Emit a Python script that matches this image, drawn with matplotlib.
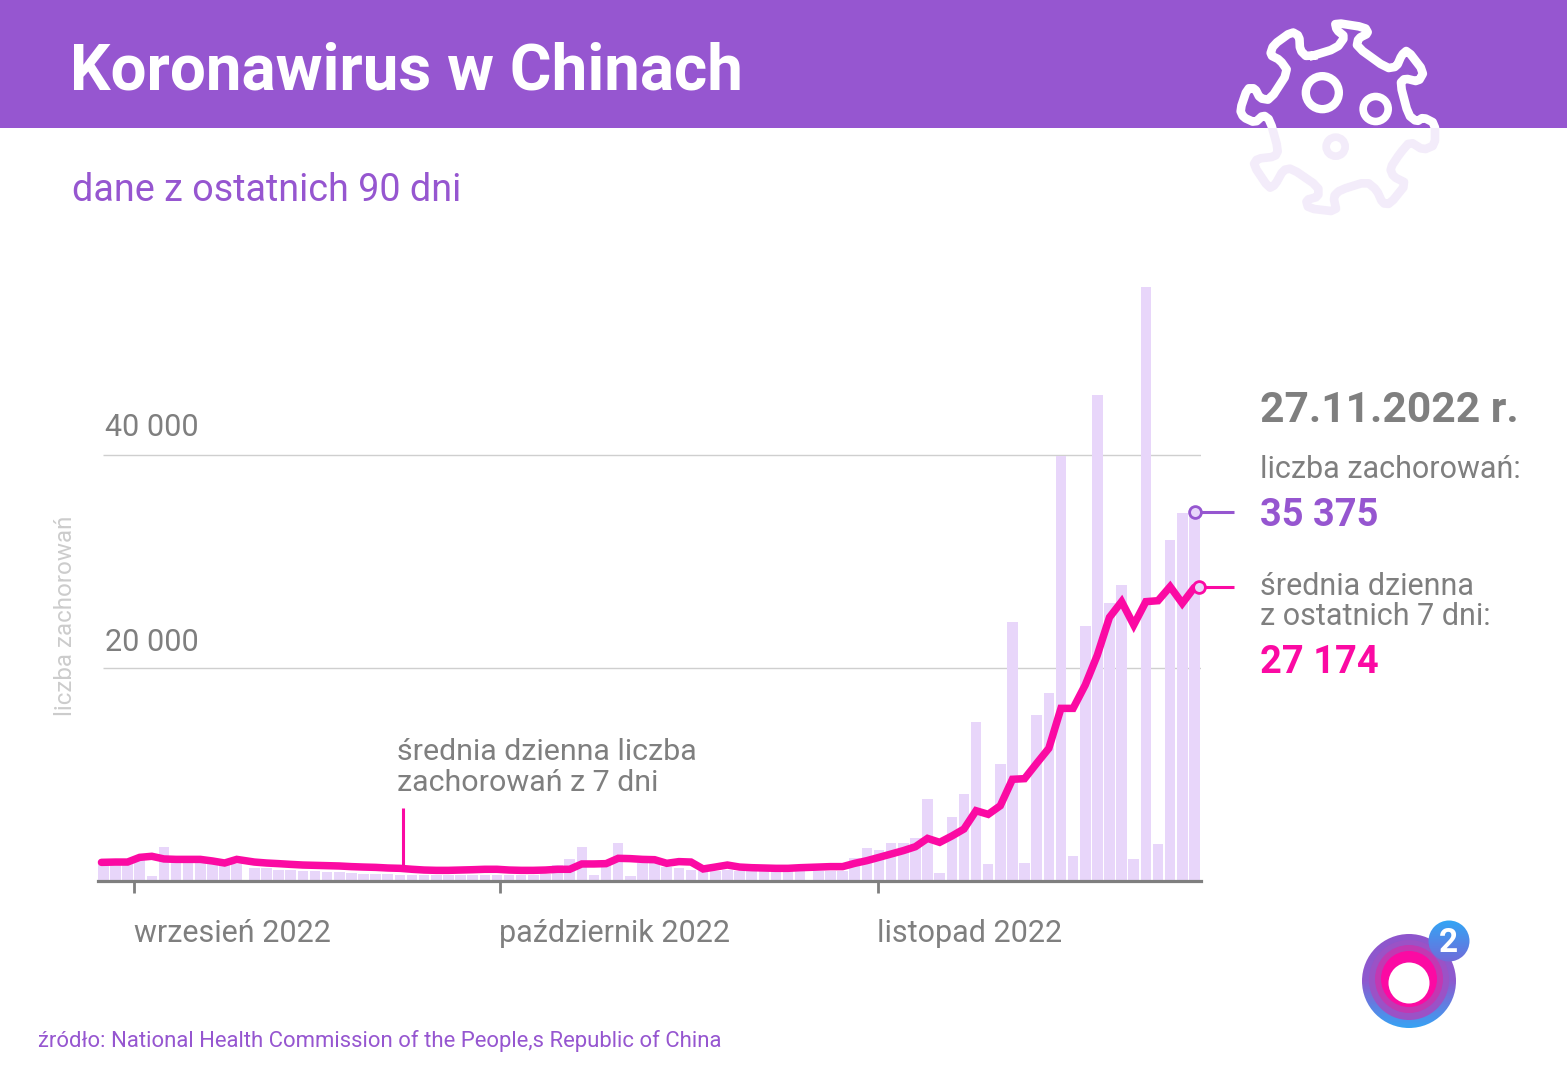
import numpy as np
import matplotlib
matplotlib.use("Agg")
import matplotlib.pyplot as plt
from matplotlib.patches import Rectangle, Circle
from matplotlib.colors import LinearSegmentedColormap

plt.rcParams['font.family'] = ['Roboto', 'DejaVu Sans']

# ---- data ----
daily_cases = [1600, 1650, 1700, 2100, 500, 3220, 1900, 1850, 1850, 1750, 1700, 1600,
               1200, 1200, 1050, 1000, 950, 900, 850, 800, 750, 700, 650, 620,
               600, 580, 560, 550, 540, 530, 520, 520, 560, 560, 560, 600,
               700, 1500, 2030, 3220, 600, 1600, 3600, 470, 1650, 1700, 1280, 1250,
               1030, 900, 900, 1030, 900, 900, 900, 900, 900, 900, 900, 900,
               900, 2200, 3060, 2910, 3530, 3530, 4000, 7690, 720, 6040, 8140, 14960,
               1560, 10950, 24350, 1720, 15580, 17620, 39890, 2380, 23940, 45630, 26070, 27790,
               2060, 55790, 3470, 32020, 34550, 34450]
avg_7d = [1750, 1780, 1780, 2220, 2320, 2070, 2030, 2030, 2030, 1880, 1690, 2030,
          1780, 1690, 1630, 1560, 1500, 1470, 1440, 1410, 1350, 1310, 1280, 1220,
          1190, 1100, 1030, 1000, 1000, 1030, 1060, 1100, 1100, 1030, 1000, 1000,
          1030, 1100, 1100, 1600, 1600, 1630, 2130, 2100, 2030, 2000, 1660, 1820,
          1780, 1130, 1310, 1500, 1310, 1250, 1220, 1190, 1190, 1250, 1310, 1350,
          1350, 1660, 1910, 2220, 2535, 2850, 3220, 4000, 3630, 4220, 4880, 6600,
          6260, 7070, 9550, 9610, 11050, 12460, 16210, 16210, 18400, 21220, 24760, 26230,
          24040, 26230, 26320, 27640, 26070, 27570]
y_ticks = [20000, 40000]
y_tick_labels = ["20 000", "40 000"]
month_ticks = [2.53, 32.7, 63.87]
month_labels = ["wrzesień 2022", "październik 2022", "listopad 2022"]

PURPLE = "#9656D0"
PINK = "#FB0AA3"
GRAY = "#7F7F7F"
BAR = "#E8D6FA"
PALE = "#F3ECFA"

W, H = 1567, 1080
fig = plt.figure(figsize=(W / 100, H / 100), dpi=100, facecolor="white")

# chart axes
L, R, T, B = 98, 1201, 270, 881
ax = fig.add_axes([L / W, (H - B) / H, (R - L) / W, (B - T) / H], facecolor="none", zorder=2)
idx = np.arange(len(daily_cases))
x = idx + 0.45 * (idx >= 12) + 0.5 * (idx >= 58)
ax.set_xlim((L - 103.3) / 12.13, (R - 103.3) / 12.13)
ax.set_ylim(0, (B - T) / 213 * 20000)

ax.hlines(y_ticks, 0, ax.get_xlim()[1], color="#CFCFCF", lw=1.0, zorder=1)
ax.bar(x, daily_cases, width=0.87, color=BAR, zorder=2)
line_x = x.astype(float).copy()
line_x[0] -= 0.15
ax.plot(line_x, avg_7d, color=PINK, lw=5.4, solid_joinstyle="miter", solid_capstyle="round", zorder=3, clip_on=False)

for s in ["top", "right", "left"]:
    ax.spines[s].set_visible(False)
ax.spines["bottom"].set_color(GRAY)
ax.spines["bottom"].set_linewidth(2.3)
ax.set_yticks([])
ax.set_xticks(month_ticks)
ax.set_xticklabels([])
ax.tick_params(axis="x", length=8.5, width=2, color=GRAY)

# overlay in pixel coordinates
ov = fig.add_axes([0, 0, 1, 1], facecolor="none", zorder=1)
ov.set_xlim(0, W)
ov.set_ylim(H, 0)
ov.axis("off")
top = fig.add_axes([0, 0, 1, 1], facecolor="none", zorder=3)
top.set_xlim(0, W)
top.set_ylim(H, 0)
top.axis("off")

ov.add_patch(Rectangle((0, 0), W, 128, color=PURPLE, lw=0))


def t(px, py, s, size, color=GRAY, weight="normal", **kw):
    top.text(px, py, s, fontsize=size, color=color, fontweight=weight, va="baseline", ha="left", **kw)


t(70, 90, "Koronawirus w Chinach", 45.9, "white", "bold")
t(72, 201, "dane z ostatnich 90 dni", 27.2, PURPLE)
for v, lab in zip(y_ticks, y_tick_labels):
    t(105, {20000: 651, 40000: 436}[v], lab, 22.0)
for px, lab in zip([134, 499, 877], month_labels):
    t(px, 942, lab, 22.0)
top.text(66, 616, "liczba zachorowań", fontsize=17.4, color="#CCCCCC", rotation=90, ha="center", va="center")
t(397, 760, "średnia dzienna liczba", 21.9)
t(397, 791, "zachorowań z 7 dni", 21.9)
top.plot([403, 403], [808, 868], color=PINK, lw=2.2, solid_capstyle="butt")

t(1260, 422, "27.11.2022 r.", 30.6, GRAY, "bold")
t(1260, 478, "liczba zachorowań:", 22.0)
t(1260, 526, "35 375", 27.4, PURPLE, "bold")
t(1260, 595, "średnia dzienna", 22.0)
t(1260, 625, "z ostatnich 7 dni:", 22.0)
t(1260, 673, "27 174", 27.4, PINK, "bold")
t(38, 1047, "źródło: National Health Commission of the People,s Republic of China", 15.9, PURPLE)

# connectors
top.plot([1195, 1234], [512, 512], color=PURPLE, lw=2.2, solid_capstyle="butt")
top.plot([1195], [512], "o", ms=8.5, mfc=BAR, mec=PURPLE, mew=2)
top.plot([1199, 1234], [587, 587], color=PINK, lw=2.2, solid_capstyle="butt")
top.plot([1199], [587], "o", ms=8.5, mfc=BAR, mec=PINK, mew=2)

# virus icon (traced outline, zoom coordinates -> pixels)
pts = np.array([(262, 172), (350, 145), (375, 110), (350, 90), (345, 68), (435, 82), (445, 100), (415, 115),
                (410, 140), (500, 205), (530, 200), (545, 165), (562, 150), (612, 215), (595, 245), (555, 235),
                (540, 250), (565, 345), (590, 365), (610, 352), (645, 370), (645, 435), (610, 450), (570, 425),
                (540, 460), (510, 505), (520, 530), (560, 550), (510, 612), (488, 610), (470, 570), (440, 545),
                (360, 570), (340, 590), (350, 635), (265, 625), (258, 600), (295, 590), (295, 560), (215, 505),
                (190, 510), (165, 555), (147, 565), (100, 495), (112, 476), (165, 470), (175, 450), (150, 360),
                (130, 345), (105, 368), (70, 352), (60, 330), (82, 265), (105, 265), (120, 295), (150, 300),
                (205, 215), (180, 180), (150, 165), (160, 135), (215, 95), (238, 108), (240, 150)], float)
q = np.roll(pts, -1, axis=0)
pts = np.column_stack([0.8 * pts + 0.2 * q, 0.2 * pts + 0.8 * q]).reshape(-1, 2)
pts = pts / 3 + [1220, 0]
pts = np.vstack([pts, pts[:1]])
for color, clip in [("white", (1200, 0, 300, 128)), (PALE, (1200, 128, 300, 120))]:
    r = Rectangle(clip[:2], clip[2], clip[3], transform=ov.transData)
    ln, = ov.plot(pts[:, 0], pts[:, 1], color=color, lw=6.2, solid_joinstyle="round")
    ln.set_clip_path(r)
ov.add_patch(Circle((1220 + 307 / 3, 278 / 3), 16.5, fc="none", ec="white", lw=6.0))
ov.add_patch(Circle((1220 + 467 / 3, 327 / 3), 12.5, fc="none", ec="white", lw=5.5))
ov.add_patch(Circle((1220 + 347 / 3, 440 / 3), 9.5, fc="none", ec=PALE, lw=5.5))

# logo
grad = np.linspace(0, 1, 256).reshape(-1, 1)
cm = LinearSegmentedColormap.from_list("g", ["#8E55CC", "#8E5ACF", "#2FA9F7"])
im = ov.imshow(grad, extent=(1355, 1462, 1032, 930), cmap=cm, aspect="auto", zorder=3)
im.set_clip_path(Circle((1409, 981), 47, transform=ov.transData))
ov.add_patch(Circle((1409, 980), 40, fc="#9B52C6", lw=0, zorder=4))
ov.add_patch(Circle((1409, 979), 34, fc="#C238B2", lw=0, zorder=5))
ov.add_patch(Circle((1409, 979), 28, fc=PINK, lw=0, zorder=6))
ov.add_patch(Circle((1409, 983), 20.5, fc="white", lw=0, zorder=7))
im2 = ov.imshow(grad[::-1], extent=(1425, 1473, 964, 918),
                cmap=LinearSegmentedColormap.from_list("h", ["#7468D8", "#2FA9F7"]), aspect="auto", zorder=8)
im2.set_clip_path(Circle((1449, 941), 20.5, transform=ov.transData))
ov.set_xlim(0, W)
ov.set_ylim(H, 0)
ov.text(1448, 943, "2", color="white", fontsize=24, fontweight="bold", ha="center", va="center", zorder=9)

fig.savefig("out.png", dpi=100, facecolor="white")
